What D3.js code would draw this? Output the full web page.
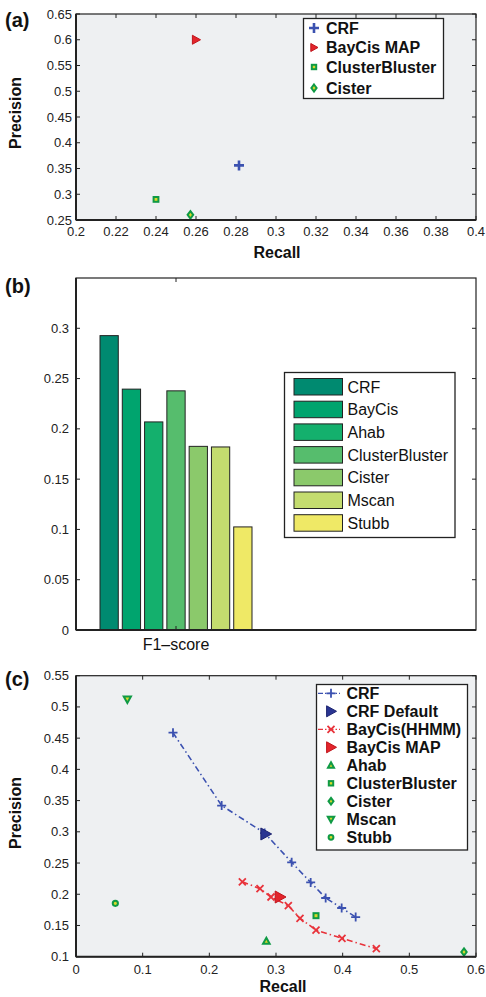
<!DOCTYPE html>
<html><head><meta charset="utf-8">
<script src="https://cdn.jsdelivr.net/npm/d3@7/dist/d3.min.js"></script>
<style>
body{margin:0;background:#fff;}
text{font-family:"Liberation Sans",Arial,sans-serif;}
</style></head>
<body>
<svg id="chart" width="486" height="997"></svg>
<script>
// ---------- Data ----------
// Panel (a)
const aNames = ["CRF", "BayCis MAP", "ClusterBluster", "Cister"];
const aRecall = [0.2815, 0.26, 0.24, 0.2572];
const aPrecision = [0.356, 0.60, 0.29, 0.26];
const aXTicks = [0.2,0.22,0.24,0.26,0.28,0.3,0.32,0.34,0.36,0.38,0.4];
const aYTicks = [0.25,0.3,0.35,0.4,0.45,0.5,0.55,0.6,0.65];

// Panel (b)
const bNames = ["CRF","BayCis","Ahab","ClusterBluster","Cister","Mscan","Stubb"];
const bValues = [0.2927,0.2395,0.2069,0.2378,0.1826,0.182,0.1025];
const bColors = ["#008a70","#00a46e","#14b06d","#56bd6d","#8bc96b","#c4dc6f","#efe966"];
const bYTicks = [0,0.05,0.1,0.15,0.2,0.25,0.3];

// Panel (c)
const crfRecall = [0.1455,0.2185,0.283,0.3235,0.352,0.3745,0.3985,0.4195];
const crfPrecision = [0.4587,0.342,0.298,0.2511,0.219,0.194,0.178,0.1635];
const bayRecall = [0.2495,0.276,0.2925,0.3185,0.336,0.36,0.399,0.4505];
const bayPrecision = [0.22,0.209,0.1956,0.1817,0.1615,0.1427,0.1294,0.1128];
const cSingleNames = ["CRF Default","BayCis MAP","Ahab","ClusterBluster","Cister","Mscan","Stubb"];
const cSingleRecall = [0.2845,0.306,0.2855,0.36,0.582,0.077,0.059];
const cSinglePrecision = [0.2965,0.1956,0.125,0.1657,0.1075,0.512,0.1855];
const cLegend = ["CRF","CRF Default","BayCis(HHMM)","BayCis MAP","Ahab","ClusterBluster","Cister","Mscan","Stubb"];
const cXTicks = [0,0.1,0.2,0.3,0.4,0.5,0.6];
const cYTicks = [0.1,0.15,0.2,0.25,0.3,0.35,0.4,0.45,0.5,0.55];

// ---------- Styles ----------
const BLUE="#3b51b0", NAVY="#2a3592", RED="#e8333b", DRED="#c0151c", GEDGE="#0f9a45", GFILL="#d8d92a";
const PLOTBG="#eef0f2", AX="#222";
const svg = d3.select("#chart");
const fmt = d => d===0 ? "0" : String(+d.toFixed(3));

// ---------- Marker helper ----------
function marker(g, type, x, y, s){
  if(type==="plus"){
    g.append("path").attr("d",`M${x-s},${y}H${x+s}M${x},${y-s}V${y+s}`).attr("stroke",BLUE).attr("stroke-width",s>4.6?2.6:1.8).attr("fill","none");
  } else if(type==="x"){
    g.append("path").attr("d",`M${x-s},${y-s}L${x+s},${y+s}M${x-s},${y+s}L${x+s},${y-s}`).attr("stroke",RED).attr("stroke-width",1.8).attr("fill","none");
  } else if(type==="tri-right-navy" || type==="tri-right-red"){
    const fill = type==="tri-right-navy"?NAVY:"#e3252c";
    const edge = type==="tri-right-navy"?"#1d2470":DRED;
    g.append("path").attr("d",`M${x-s*0.8},${y-s}L${x+s},${y}L${x-s*0.8},${y+s}Z`).attr("fill",fill).attr("stroke",edge).attr("stroke-width",1);
  } else if(type==="square"){
    g.append("rect").attr("x",x-s).attr("y",y-s).attr("width",2*s).attr("height",2*s).attr("fill",GFILL).attr("stroke",GEDGE).attr("stroke-width",2);
  } else if(type==="diamond"){
    g.append("path").attr("d",`M${x},${y-s*1.35}L${x+s},${y}L${x},${y+s*1.35}L${x-s},${y}Z`).attr("fill",GFILL).attr("stroke",GEDGE).attr("stroke-width",2);
  } else if(type==="tri-up"){
    g.append("path").attr("d",`M${x},${y-s}L${x+s},${y+s*0.8}L${x-s},${y+s*0.8}Z`).attr("fill",GFILL).attr("stroke",GEDGE).attr("stroke-width",2);
  } else if(type==="tri-down"){
    g.append("path").attr("d",`M${x},${y+s}L${x+s},${y-s*0.8}L${x-s},${y-s*0.8}Z`).attr("fill",GFILL).attr("stroke",GEDGE).attr("stroke-width",2);
  } else if(type==="circle"){
    g.append("circle").attr("cx",x).attr("cy",y).attr("r",s).attr("fill",GFILL).attr("stroke",GEDGE).attr("stroke-width",2);
  }
}

// ---------- Frame helper (matlab box with inward ticks) ----------
function frame(g, x, y, xTicks, yTicks, opts){
  const [x0,x1]=x.range(), [y1,y0]=y.range();
  const tl=4;
  xTicks.forEach(t=>{
    g.append("line").attr("x1",x(t)).attr("x2",x(t)).attr("y1",y1).attr("y2",y1-tl).attr("stroke",AX).attr("stroke-width",1);
    g.append("line").attr("x1",x(t)).attr("x2",x(t)).attr("y1",y0).attr("y2",y0+tl).attr("stroke",AX).attr("stroke-width",1);
  });
  yTicks.forEach(t=>{
    g.append("line").attr("x1",x0).attr("x2",x0+tl).attr("y1",y(t)).attr("y2",y(t)).attr("stroke",AX).attr("stroke-width",1);
    g.append("line").attr("x1",x1).attr("x2",x1-tl).attr("y1",y(t)).attr("y2",y(t)).attr("stroke",AX).attr("stroke-width",1);
  });
  g.append("rect").attr("x",x0).attr("y",y0).attr("width",x1-x0).attr("height",y1-y0).attr("fill","none").attr("stroke",AX).attr("stroke-width",1.2);
  g.append("line").attr("x1",x0).attr("x2",x1).attr("y1",y1).attr("y2",y1).attr("stroke",AX).attr("stroke-width",2);
  g.append("line").attr("x1",x0).attr("x2",x0).attr("y1",y0).attr("y2",y1).attr("stroke",AX).attr("stroke-width",2);
  if(opts.xLabels!==false){
    xTicks.forEach(t=>g.append("text").attr("x",x(t)).attr("y",y1+opts.xlOff).attr("text-anchor","middle").attr("font-size",13).attr("fill","#222").text(fmt(t)));
  }
  yTicks.forEach(t=>g.append("text").attr("x",x0-opts.ylOff).attr("y",y(t)+4.5).attr("text-anchor","end").attr("font-size",13).attr("fill","#222").text(fmt(t)));
}

// ================= Panel (a) =================
{
  const g = svg.append("g");
  const x = d3.scaleLinear().domain([0.2,0.4]).range([76,476]);
  const y = d3.scaleLinear().domain([0.25,0.65]).range([220,14]);
  g.append("rect").attr("x",76).attr("y",14).attr("width",400).attr("height",206).attr("fill",PLOTBG);
  const types = ["plus","tri-right-red","square","diamond"];
  const sizes = [5,4.5,2.4,2.8];
  aNames.forEach((n,i)=>marker(g, types[i], x(aRecall[i]), y(aPrecision[i]), sizes[i]));
  frame(g,x,y,aXTicks,aYTicks,{xlOff:16,ylOff:4});
  const lg = g.append("g");
  lg.append("rect").attr("x",303.5).attr("y",18.5).attr("width",140).attr("height",80).attr("fill","#fff").attr("stroke",AX).attr("stroke-width",1.3);
  const rowsY=[28,47.5,67,88];
  aNames.forEach((n,i)=>{
    marker(lg, types[i], 314, rowsY[i], [5,4,2.2,2.6][i]);
    lg.append("text").attr("x",326).attr("y",rowsY[i]+5.5).attr("font-size",16).attr("font-weight","bold").attr("fill","#111").text(n);
  });
  g.append("text").attr("x",277).attr("y",258).attr("text-anchor","middle").attr("font-size",16).attr("font-weight","bold").attr("fill","#111").text("Recall");
  g.append("text").attr("transform","translate(21,113) rotate(-90)").attr("text-anchor","middle").attr("font-size",16).attr("font-weight","bold").attr("fill","#111").text("Precision");
  g.append("text").attr("x",5).attr("y",27).attr("font-size",20).attr("font-weight","bold").attr("fill","#111").text("(a)");
}

// ================= Panel (b) =================
{
  const g = svg.append("g");
  const x = d3.scaleLinear().domain([0.5,2.5]).range([76,476]);
  const y = d3.scaleLinear().domain([0,0.35]).range([630,278]);
  const band = d3.scaleBand().domain(bNames).range([x(1-0.39), x(1+0.39)]).paddingInner(0.18).paddingOuter(0.09);
  bNames.forEach((n,i)=>{
    g.append("rect").attr("x",band(n)).attr("y",y(bValues[i])).attr("width",band.bandwidth()).attr("height",y(0)-y(bValues[i]))
      .attr("fill",bColors[i]).attr("stroke","#222").attr("stroke-width",1);
  });
  frame(g,x,y,[1],bYTicks,{xLabels:false,ylOff:7});
  g.append("text").attr("x",x(1)).attr("y",650).attr("text-anchor","middle").attr("font-size",16).attr("fill","#111").text("F1\u2013score");
  const lg = g.append("g");
  lg.append("rect").attr("x",284.5).attr("y",372.5).attr("width",170.5).attr("height",165).attr("fill","#fff").attr("stroke",AX).attr("stroke-width",1.3);
  bNames.forEach((n,i)=>{
    const ry = 378.5 + i*22.7;
    lg.append("rect").attr("x",294).attr("y",ry).attr("width",48.5).attr("height",16.5).attr("fill",bColors[i]).attr("stroke","#222").attr("stroke-width",1);
    lg.append("text").attr("x",347.5).attr("y",ry+14).attr("font-size",16).attr("fill","#111").text(n);
  });
  g.append("text").attr("x",5).attr("y",293).attr("font-size",20).attr("font-weight","bold").attr("fill","#111").text("(b)");
}

// ================= Panel (c) =================
{
  const g = svg.append("g");
  const x = d3.scaleLinear().domain([0,0.6]).range([76,476]);
  const y = d3.scaleLinear().domain([0.1,0.55]).range([956.7,675.7]);
  g.append("rect").attr("x",76).attr("y",675.7).attr("width",400).attr("height",281).attr("fill",PLOTBG);
  const line = d3.line().x(d=>x(d[0])).y(d=>y(d[1]));
  const crfPts = crfRecall.map((r,i)=>[r,crfPrecision[i]]);
  const bayPts = bayRecall.map((r,i)=>[r,bayPrecision[i]]);
  g.append("path").attr("d",line(crfPts)).attr("fill","none").attr("stroke",BLUE).attr("stroke-width",1.6).attr("stroke-dasharray","6,3,1.5,3");
  g.append("path").attr("d",line(bayPts)).attr("fill","none").attr("stroke",RED).attr("stroke-width",1.6).attr("stroke-dasharray","6,3,1.5,3");
  crfPts.forEach(p=>marker(g,"plus",x(p[0]),y(p[1]),4.5));
  bayPts.forEach(p=>marker(g,"x",x(p[0]),y(p[1]),3.5));
  const sTypes = ["tri-right-navy","tri-right-red","tri-up","square","diamond","tri-down","circle"];
  const sSizes = [6,6,3.3,2.5,2.7,3.6,2.6];
  cSingleNames.forEach((n,i)=>marker(g,sTypes[i],x(cSingleRecall[i]),y(cSinglePrecision[i]),sSizes[i]));
  frame(g,x,y,cXTicks,cYTicks,{xlOff:17,ylOff:7});
  const lg = g.append("g");
  lg.append("rect").attr("x",316.5).attr("y",684.5).attr("width",151).attr("height",165.5).attr("fill","#fff").attr("stroke",AX).attr("stroke-width",1.3);
  const lTypes = ["plus","tri-right-navy","x","tri-right-red","tri-up","square","diamond","tri-down","circle"];
  const lSizes = [4.5,5.5,3.5,5.5,3,2.2,2.5,3.2,2.4];
  cLegend.forEach((n,i)=>{
    const ry = 693.3 + i*18;
    if(n==="CRF"||n==="BayCis(HHMM)"){
      lg.append("line").attr("x1",318).attr("x2",340).attr("y1",ry).attr("y2",ry).attr("stroke",n==="CRF"?BLUE:RED).attr("stroke-width",1.3).attr("stroke-dasharray","5,2,1.5,2");
    }
    marker(lg,lTypes[i],331,ry,lSizes[i]);
    lg.append("text").attr("x",346.5).attr("y",ry+5.5).attr("font-size",16).attr("font-weight","bold").attr("fill","#111").text(n);
  });
  g.append("text").attr("x",283).attr("y",992).attr("text-anchor","middle").attr("font-size",16).attr("font-weight","bold").attr("fill","#111").text("Recall");
  g.append("text").attr("transform","translate(21,813) rotate(-90)").attr("text-anchor","middle").attr("font-size",16).attr("font-weight","bold").attr("fill","#111").text("Precision");
  g.append("text").attr("x",5).attr("y",686).attr("font-size",20).attr("font-weight","bold").attr("fill","#111").text("(c)");
}
</script>
</body></html>
